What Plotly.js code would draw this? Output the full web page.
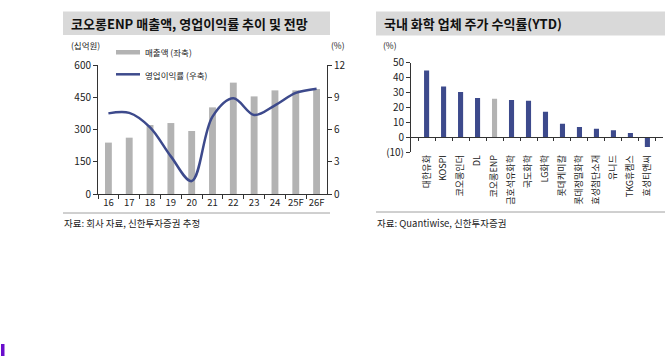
<!DOCTYPE html>
<html><head><meta charset="utf-8">
<script src="https://cdn.plot.ly/plotly-3.0.1.min.js"></script>
<style>html,body{margin:0;padding:0;background:#fff}#chart{width:670px;height:357px}</style>
</head><body><div id="chart"></div>
<script>
// ---- data ----
const years = ['16','17','18','19','20','21','22','23','24','25F','26F'];
const sales = [239, 262, 321, 330, 293, 403, 518, 454, 482, 482, 488];
const opMargin = [7.5, 7.55, 6.2, 3.5, 1.2, 7.2, 8.9, 7.35, 8.25, 9.4, 9.8];
const companies = ['대한유화','KOSPI','코오롱인더','DL','코오롱ENP','금호석유화학','국도화학','LG화학','롯데케미칼','롯데정밀화학','효성첨단소재','유니드','TKG휴켐스','효성티앤씨'];
const ytd = [44.7, 34, 30.4, 26.4, 25.9, 25, 24.6, 17.2, 9.2, 7, 5.8, 4.7, 2.9, -6.4];
const highlight = '코오롱ENP';
const leftTicks = [0, 150, 300, 450, 600];
const rightTicks = [0, 3, 6, 9, 12];
const ytdTicks = [-10, 0, 10, 20, 30, 40, 50];
const ytdTickText = ['(10)', '0', '10', '20', '30', '40', '50'];

// ---- styles ----
const W = 670, H = 357;
const FONT = 'Noto Sans CJK KR, sans-serif';
const NAVY = '#3D4A8C', GRAY = '#B3B3B3', AX = '#333';
const px = x => x / W, py = y => 1 - y / H;

const dom1x = [px(98), px(327)], dom1y = [py(194), py(65)];
const dom3x = [px(411), px(663)], dom3y = [py(152.3), py(62.7)];
const yr3 = [-10, 50];
const zeroPos = dom3y[0] + (0 - yr3[0]) / (yr3[1] - yr3[0]) * (dom3y[1] - dom3y[0]);

const traces = [
  {type:'bar', x: years, y: sales, xaxis:'x', yaxis:'y', marker:{color:GRAY}, width:0.33, hoverinfo:'skip'},
  {type:'scatter', mode:'lines', x: years, y: opMargin, xaxis:'x', yaxis:'y2',
   line:{color:NAVY, width:2.5, shape:'spline', smoothing:1.0}, hoverinfo:'skip'},
  {type:'bar', x: companies, y: ytd, xaxis:'x3', yaxis:'y3', width:0.3,
   marker:{color: companies.map(c => c === highlight ? GRAY : NAVY)}, hoverinfo:'skip'},
  {type:'scatter', mode:'markers', x: companies, y: ytd, xaxis:'x4', yaxis:'y3',
   marker:{opacity:0, size:1}, hoverinfo:'skip'}
];

const axBase = {showgrid:false, zeroline:false, showline:true, linecolor:AX, linewidth:1,
  ticks:'outside', ticklen:4, tickcolor:AX, tickfont:{family:FONT, size:10, color:'#222'}, fixedrange:true};

const layout = {
  width: W, height: H, margin:{l:0, r:0, t:0, b:0}, showlegend:false,
  paper_bgcolor:'#fff', plot_bgcolor:'rgba(0,0,0,0)',
  font:{family:FONT, color:'#222'},
  xaxis: Object.assign({}, axBase, {domain:dom1x, anchor:'y', type:'category', tickson:'boundaries', tickangle:0,
    tickfont:{family:FONT, size:9.5, color:'#222'}}),
  yaxis: Object.assign({}, axBase, {domain:dom1y, anchor:'x', range:[0,600], tickvals:leftTicks}),
  yaxis2: Object.assign({}, axBase, {overlaying:'y', side:'right', anchor:'x', range:[0,12], tickvals:rightTicks}),
  xaxis3: Object.assign({}, axBase, {domain:dom3x, anchor:'y3', type:'category', showline:false, ticks:'', tickangle:-90,
    tickfont:{family:FONT, size:9, color:'#222'}}),
  xaxis4: Object.assign({}, axBase, {overlaying:'x3', anchor:'free', position:zeroPos, type:'category', matches:'x3',
    tickson:'boundaries', ticklen:3, showticklabels:false}),
  yaxis3: Object.assign({}, axBase, {domain:dom3y, anchor:'x3', range:yr3, tickvals:ytdTicks, ticktext:ytdTickText}),
  shapes: [
    {type:'rect', xref:'paper', yref:'paper', x0:px(63), x1:px(330), y0:py(35), y1:py(11.5), fillcolor:'#D9D9D9', line:{width:0}, layer:'below'},
    {type:'rect', xref:'paper', yref:'paper', x0:px(376), x1:px(665), y0:py(35.5), y1:py(11.5), fillcolor:'#D9D9D9', line:{width:0}, layer:'below'},
    {type:'line', xref:'paper', yref:'paper', x0:px(63), x1:px(330), y0:py(213), y1:py(213), line:{color:'#A0A0A0', width:1}},
    {type:'line', xref:'paper', yref:'paper', x0:px(376), x1:px(665), y0:py(212), y1:py(212), line:{color:'#A0A0A0', width:1}},
    {type:'rect', xref:'paper', yref:'paper', x0:px(116), x1:px(140), y0:py(54.5), y1:py(50), fillcolor:GRAY, line:{width:0}},
    {type:'line', xref:'paper', yref:'paper', x0:px(116), x1:px(140), y0:py(74.3), y1:py(74.3), line:{color:NAVY, width:2.5}},
    {type:'rect', xref:'paper', yref:'paper', x0:px(1), x1:px(4.5), y0:py(356), y1:py(344), fillcolor:'#6A0DCC', line:{width:0}}
  ],
  annotations: [
    {text:'<b>코오롱ENP 매출액, 영업이익률 추이 및 전망</b>', x:px(69), y:py(23.5), font:{size:13, color:'#111'}},
    {text:'<b>국내 화학 업체 주가 수익률(YTD)</b>', x:px(382), y:py(23.5), font:{size:13, color:'#111'}},
    {text:'(십억원)', x:px(69), y:py(45), font:{size:8.5}},
    {text:'(%)', x:px(329), y:py(45), font:{size:8.5}},
    {text:'(%)', x:px(381), y:py(45), font:{size:8.5}},
    {text:'매출액 (좌축)', x:px(143), y:py(52), font:{size:8.5}},
    {text:'영업이익률 (우축)', x:px(143), y:py(74.5), font:{size:8.5}},
    {text:'자료: 회사 자료, 신한투자증권 추정', x:px(62), y:py(223), font:{size:9.5}},
    {text:'자료: Quantiwise, 신한투자증권', x:px(375), y:py(223), font:{size:9.5}}
  ].map(a => Object.assign({xref:'paper', yref:'paper', xanchor:'left', yanchor:'middle', showarrow:false}, a,
        {font: Object.assign({family:FONT, color:'#222'}, a.font)}))
};

Plotly.newPlot('chart', traces, layout, {staticPlot:true, displayModeBar:false});
</script>
</body></html>
